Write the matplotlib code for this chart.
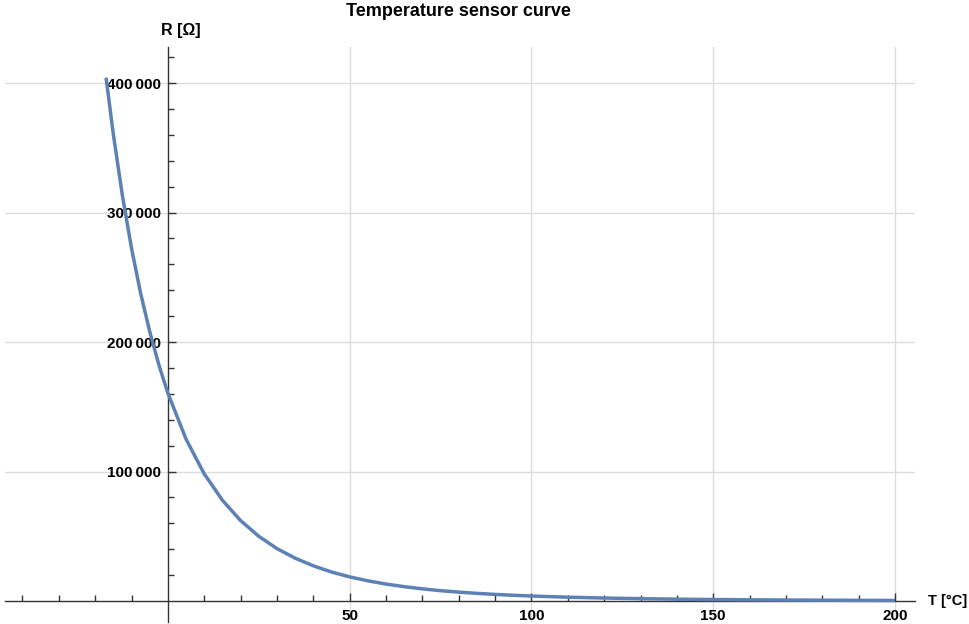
import numpy as np
from matplotlib import pyplot as plt
from matplotlib.ticker import FixedLocator, FuncFormatter

# values
temps = [-17, -15, -12.5, -10, -7.5, -5, -2.5, 0, 5, 10, 15, 20, 25, 30, 35, 40, 45,
         50, 55, 60, 65, 70, 75, 80, 85, 90, 95, 100, 110, 120, 130, 140, 150,
         160, 170, 180, 190, 200]
resist = [404100, 360300, 312900, 272400, 237700, 208100, 182600, 160500, 125000,
          98200, 77800, 62100, 50000, 40500, 33100, 27200, 22400, 18650, 15600,
          13100, 11100, 9400, 8000, 6870, 5910, 5110, 4430, 3860, 2960, 2300, 1810,
          1440, 1160, 940, 770, 640, 530, 450]
x_major = [50, 100, 150, 200]
y_major = [100000, 200000, 300000, 400000]

plt.rcParams['font.family'] = ['Liberation Sans', 'DejaVu Sans']
plt.rcParams['font.weight'] = 'bold'

W, H = 970, 624
fig = plt.figure(figsize=(W / 100, H / 100), dpi=100)
ax = fig.add_axes([5 / W, 2 / H, 910 / W, 575 / H])

ax.set_xlim(-44.8, 205.5)
ax.set_ylim(-16200, 427800)

for gx in x_major:
    ax.axvline(gx, color="#dcdcdc", lw=1, zorder=0)
for gy in y_major:
    ax.axhline(gy, color="#dcdcdc", lw=1, zorder=0)

ax.plot(temps, resist, color="#5e81b5", lw=2.5, zorder=3, solid_capstyle='butt')

ax.spines['top'].set_visible(False)
ax.spines['right'].set_visible(False)
ax.spines['left'].set_position(('data', 0))
ax.spines['bottom'].set_position(('data', 0))
for s in ('left', 'bottom'):
    ax.spines[s].set_color("#333333")
    ax.spines[s].set_linewidth(1.0)

ax.xaxis.set_major_locator(FixedLocator(x_major))
ax.xaxis.set_minor_locator(FixedLocator([v for v in range(-40, 201, 10) if v % 50 != 0]))
ax.yaxis.set_major_locator(FixedLocator(y_major))
ax.yaxis.set_minor_locator(FixedLocator([v for v in range(20000, 420001, 20000) if v % 100000 != 0]))

ax.yaxis.set_major_formatter(FuncFormatter(lambda v, p: f"{int(v):,}".replace(",", "\u2009")))
ax.xaxis.set_major_formatter(FuncFormatter(lambda v, p: f"{int(v)}"))

ax.tick_params(which='both', direction='in', color="#333333", width=1.0, labelsize=11)
ax.tick_params(which='major', length=6)
ax.tick_params(which='minor', length=4)
ax.tick_params(axis='y', pad=5)
ax.tick_params(axis='x', pad=6)

ax.annotate("T [°C]", xy=(1, 0), xycoords=('axes fraction', 'data'),
            xytext=(9.5, 0), textcoords='offset points',
            ha='left', va='center', fontsize=10.5, fontweight='bold')
ax.annotate("R [Ω]", xy=(0, 1), xycoords=('data', 'axes fraction'),
            xytext=(-5, 12), textcoords='offset points',
            ha='left', va='center', fontsize=11.5, fontweight='bold')
fig.text(458 / W, 1 - 11 / H, "Temperature sensor curve", ha='center', va='center',
         fontsize=13, fontweight='bold')

fig.savefig("out.png", dpi=100)
